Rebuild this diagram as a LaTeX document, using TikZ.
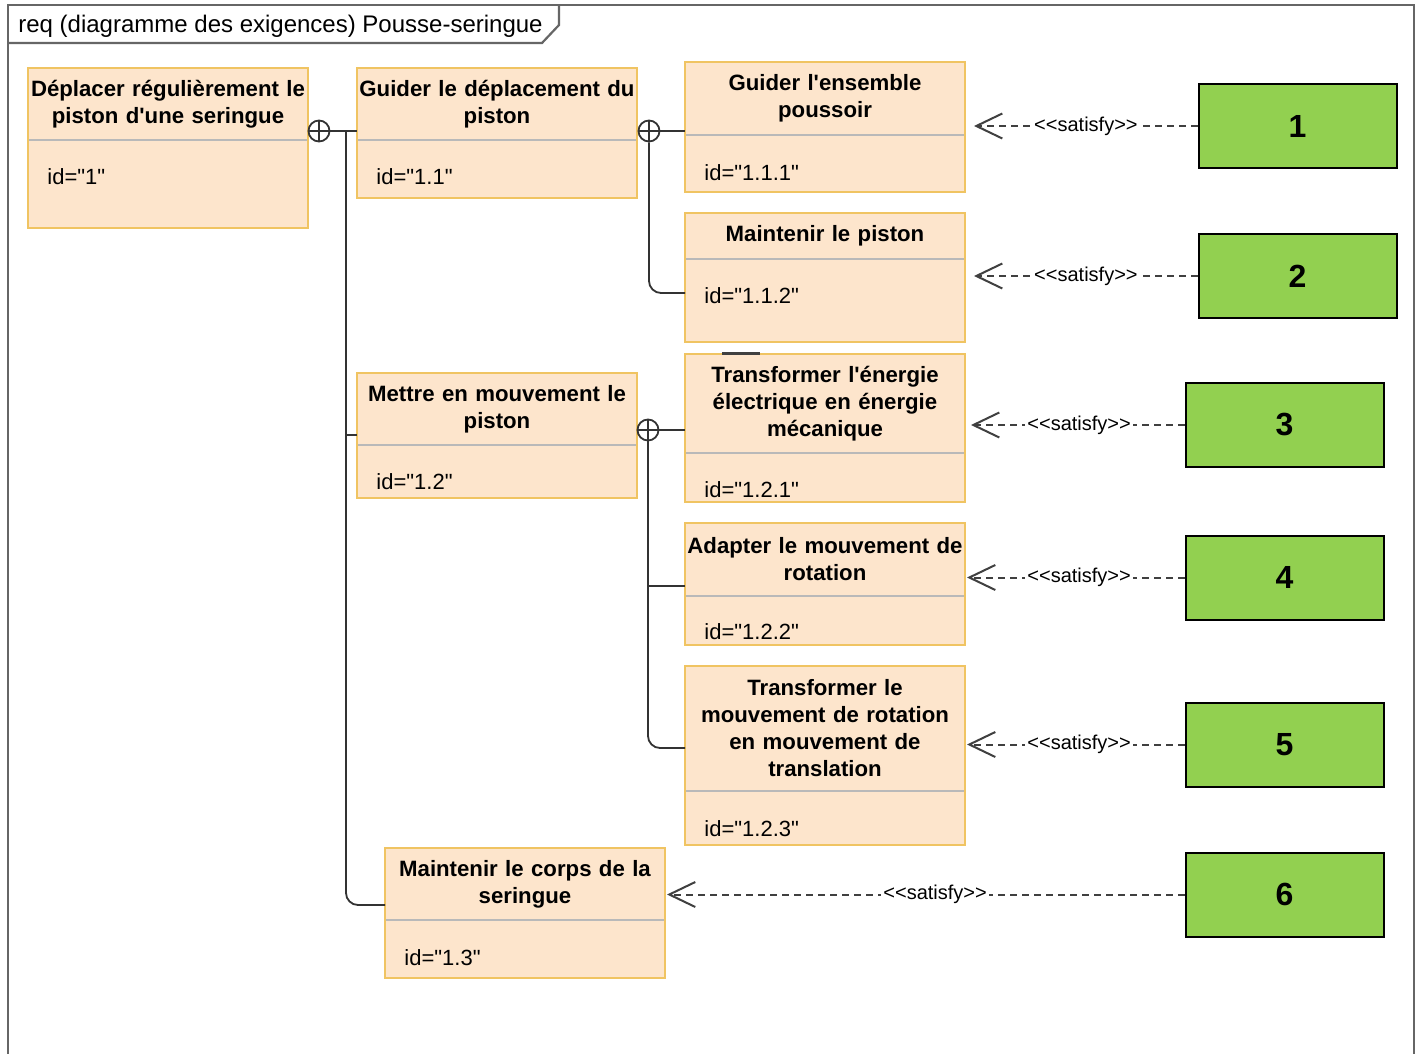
\documentclass[tikz,border=0pt]{standalone}
\usepackage{fontspec}
\newfontfamily\diagfont{Liberation Sans}
\usetikzlibrary{arrows.meta,positioning}
\definecolor{reqfill}{RGB}{253,229,204}
\definecolor{reqedge}{RGB}{240,196,98}
\definecolor{reqline}{RGB}{185,185,185}
\definecolor{satgreen}{RGB}{146,208,80}
\tikzset{
    % open tip of the satisfy links
    >={Straight Barb[length=13pt,width=12.5pt,line width=1pt]},
    reqname/.style={
      rectangle,
      anchor=north west,
      draw=reqedge, line width=1.4pt,
      fill=reqfill,
      text width=150pt,
      inner xsep=-5pt,
      outer sep=0pt,
      align=center,
      font=\diagfont\bfseries\fontsize{11.1}{13.5}\selectfont},
    reqbody/.style={
      rectangle,
      draw=reqedge, line width=1.4pt,
      fill=reqfill,
      minimum width=140pt,
      inner sep=0pt,
      outer sep=0pt,
      append after command={
        (\tikzlastnode.north west) edge[divider] (\tikzlastnode.north east)}},
    divider/.style={
      draw=reqline, line width=1.3pt,
      shorten <=0.7pt, shorten >=0.7pt},
    reqid/.style={
      anchor=west, inner sep=0pt,
      font=\diagfont\fontsize{11}{13}\selectfont},
    satbox/.style={
      rectangle,
      draw=black, line width=1pt,
      fill=satgreen,
      minimum width=99pt, minimum height=42pt,
      font=\diagfont\bfseries\fontsize{16}{19}\selectfont},
    satisfy/.style={
      ->, draw=black!75, line width=1pt,
      dash pattern=on 3.5pt off 2.5pt},
    satlabel/.style={
      fill=white, inner sep=1pt, pos=0.48,
      font=\diagfont\fontsize{10}{12}\selectfont},
    contain/.style={
      draw=black!80, line width=0.9pt},
    contpt/.style={
      circle,
      draw=black!80, line width=0.9pt,
      fill=white,
      minimum size=10.5pt, inner sep=0pt,
      path picture={
        \draw[black!80, line width=0.9pt]
          (path picture bounding box.north) -- (path picture bounding box.south)
          (path picture bounding box.west) -- (path picture bounding box.east);}},
    frameline/.style={
      draw=black!60, line width=1.1pt},
    titletext/.style={
      anchor=west, inner sep=0pt,
      font=\diagfont\fontsize{12}{14}\selectfont},
}

\begin{document}
\begin{tikzpicture}[x=0.5pt,y=-0.5pt]
    \useasboundingbox (0,0) rectangle (1419,1054);
    \fill[white] (0,0) rectangle (1419,1054);

    % diagram frame
    \draw[frameline] (8,1080) -- (8,5) -- (1414,5) -- (1414,1080);
    \draw[frameline] (8,43) -- (542,43) -- (559,25) -- (559,5);
    \node (title) [titletext] at (18,26)
          {req (diagramme des exigences) Pousse-seringue};

    % requirements
    \node (r1) [reqname, minimum height=36pt] at (28,68)
          {Déplacer régulièrement le\\piston d'une seringue};
    \node (r1b) [reqbody, minimum height=44pt, below=0pt of r1] {};
    \node (r1id) [reqid] at ([shift={(19,37)}]r1b.north west) {id="1"};

    \node (r11) [reqname, minimum height=36pt] at (357,68)
          {Guider le déplacement du\\piston};
    \node (r11b) [reqbody, minimum height=29pt, below=0pt of r11] {};
    \node (r11id) [reqid] at ([shift={(19,37)}]r11b.north west) {id="1.1"};

    \node (r111) [reqname, minimum height=36.5pt] at (685,62)
          {Guider l'ensemble\\poussoir};
    \node (r111b) [reqbody, minimum height=28.5pt, below=0pt of r111] {};
    \node (r111id) [reqid] at ([shift={(19,38)}]r111b.north west) {id="1.1.1"};

    \node (r112) [reqname, minimum height=23pt] at (685,213)
          {Maintenir le piston};
    \node (r112b) [reqbody, minimum height=41.5pt, below=0pt of r112] {};
    \node (r112id) [reqid] at ([shift={(19,37)}]r112b.north west) {id="1.1.2"};

    \node (r12) [reqname, minimum height=36pt] at (357,373)
          {Mettre en mouvement le\\piston};
    \node (r12b) [reqbody, minimum height=26.5pt, below=0pt of r12] {};
    \node (r12id) [reqid] at ([shift={(19,37)}]r12b.north west) {id="1.2"};

    \node (r121) [reqname, minimum height=49.5pt] at (685,354)
          {Transformer l'énergie\\électrique en énergie\\mécanique};
    \node (r121b) [reqbody, minimum height=24.5pt, below=0pt of r121] {};
    \node (r121id) [reqid] at ([shift={(19,37)}]r121b.north west) {id="1.2.1"};

    \node (r122) [reqname, minimum height=36.5pt] at (685,523)
          {Adapter le mouvement de\\rotation};
    \node (r122b) [reqbody, minimum height=24.5pt, below=0pt of r122] {};
    \node (r122id) [reqid] at ([shift={(19,36)}]r122b.north west) {id="1.2.2"};

    \node (r123) [reqname, minimum height=62.5pt] at (685,666)
          {Transformer le\\mouvement de rotation\\en mouvement de\\translation};
    \node (r123b) [reqbody, minimum height=27pt, below=0pt of r123] {};
    \node (r123id) [reqid] at ([shift={(19,38)}]r123b.north west) {id="1.2.3"};

    \node (r13) [reqname, minimum height=36pt] at (385,848)
          {Maintenir le corps de la\\seringue};
    \node (r13b) [reqbody, minimum height=29pt, below=0pt of r13] {};
    \node (r13id) [reqid] at ([shift={(19,38)}]r13b.north west) {id="1.3"};

    \draw[line width=1.5pt, black!75] ([shift={(37,-1)}]r121.north west) -- ++(38,0);

    % containment
    \node (o1) [contpt] at (319,131) {};
    \node (o2) [contpt] at (649,131) {};
    \node (o3) [contpt] at (648,430) {};
    \coordinate (j1) at (346,131);
    \draw[contain] (o1) -- (o1 -| r11.west);
    \draw[contain] ([shift={(0,62)}]r12.north west) -| (j1);
    \draw[contain, rounded corners=6pt] (j1) |- ([shift={(0,57)}]r13.north west);
    \draw[contain] (o2) -- (o2 -| r111.west);
    \draw[contain, rounded corners=6pt] (o2.south) |- ([shift={(0,34)}]r112b.north west);
    \draw[contain] (o3) -- (o3 -| r121.west);
    \draw[contain] (o3.south) |- ([shift={(0,63)}]r122.north west);
    \draw[contain, rounded corners=6pt] (o3.south) |- ([shift={(0,82)}]r123.north west);

    % satisfying blocks
    \node (g1) [satbox] at (1297.5,126) {1};
    \node (g2) [satbox] at (1297.5,276) {2};
    \node (g3) [satbox] at (1284.5,425) {3};
    \node (g4) [satbox] at (1284.5,577.5) {4};
    \node (g5) [satbox] at (1284.5,744.5) {5};
    \node (g6) [satbox] at (1284.5,894.5) {6};

    \draw[satisfy, shorten >=4.5pt] (g1.west)
          -- node (s1) [satlabel] {<<satisfy>>} (g1.west -| r111.east);
    \draw[satisfy, shorten >=4.5pt] (g2.west)
          -- node (s2) [satlabel] {<<satisfy>>} (g2.west -| r112.east);
    \draw[satisfy, shorten >=3pt] (g3.west)
          -- node (s3) [satlabel] {<<satisfy>>} (g3.west -| r121.east);
    \draw[satisfy, shorten >=1pt] (g4.west)
          -- node (s4) [satlabel] {<<satisfy>>} (g4.west -| r122.east);
    \draw[satisfy, shorten >=1pt] (g5.west)
          -- node (s5) [satlabel] {<<satisfy>>} (g5.west -| r123.east);
    \draw[satisfy, shorten >=1pt] (g6.west)
          -- node (s6) [satlabel] {<<satisfy>>} (g6.west -| r13.east);
\end{tikzpicture}
\end{document}
